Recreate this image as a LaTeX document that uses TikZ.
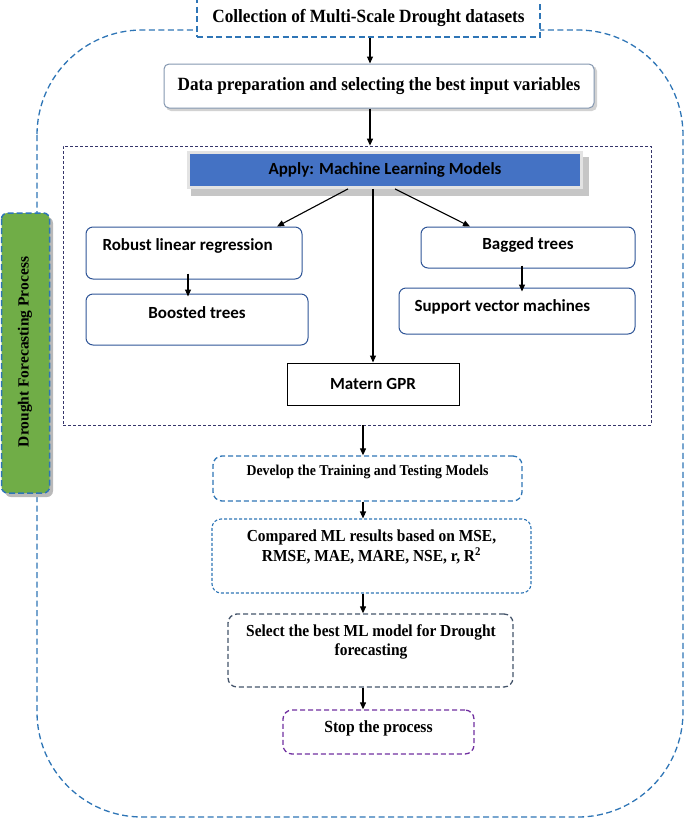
\documentclass[tikz,border=0pt]{standalone}
\usepackage{fontspec}
\setmainfont{Liberation Serif}
\newfontfamily\calib{Carlito}
\newfontfamily\tnr[FakeStretch=0.92]{Liberation Serif}
\usetikzlibrary{arrows.meta}
\definecolor{dblue}{HTML}{2E75B6}
\definecolor{navyd}{HTML}{35356A}
\definecolor{bblue}{HTML}{4472C4}
\definecolor{mblue}{HTML}{2F5597}
\definecolor{slate}{HTML}{44546A}
\definecolor{purp}{HTML}{7030A0}
\definecolor{grn}{HTML}{70AD47}
\definecolor{pgray}{HTML}{8497B0}
\tikzset{
  arr/.style={-{Triangle[length=7pt,width=6pt]}, line width=1.1pt, black},
  ttl/.style={font=\tnr\bfseries\fontsize{18.7}{21}\selectfont, text=black},
  cal/.style={font=\calib\bfseries\fontsize{17}{20}\selectfont, text=black},
  mlbox/.style={draw=mblue, line width=1pt, rounded corners=7pt, fill=white, inner sep=0pt},
  dbox/.style={line width=1.3pt, dash pattern=on 5pt off 3pt, rounded corners=9pt, inner sep=0pt},
  sm/.style 2 args={font=\tnr\bfseries\fontsize{#1}{#2}\selectfont, text=black, align=center},
}
\begin{document}
\begin{tikzpicture}[x=1pt,y=-1pt]
\useasboundingbox (0,0) rectangle (685,820);
% outer process frame
\draw[dblue, line width=1.3pt, dash pattern=on 6pt off 3.5pt, rounded corners=105pt] (37,30) rectangle (683,817);
% top box
\node[draw=dblue, fill=white, line width=1.3pt, dash pattern=on 6pt off 3.5pt, minimum width=343pt, minimum height=38pt, inner sep=0pt, ttl] (top) at (368.5,18) {Collection of Multi-Scale Drought datasets};
% data preparation
\fill[gray!35, rounded corners=5pt] (166,66) rectangle (597,111);
\node[draw=pgray, fill=white, line width=1pt, rounded corners=5pt, minimum width=430pt, minimum height=44pt, inner sep=0pt, ttl] (prep) at (379,86) {Data preparation and selecting the best input variables};
% ML dashed box
\node[draw=navyd, line width=0.8pt, dash pattern=on 3pt off 2pt, minimum width=588pt, minimum height=279pt, inner sep=0pt] (ml) at (357,285.5) {};
% Apply box
\fill[gray!45] (191,157) rectangle (589,196);
\node[fill=bblue, draw=gray!22, line width=2.8pt, minimum width=393pt, minimum height=35pt, inner sep=0pt, cal] (apply) at (385,170) {Apply: Machine Learning Models};
% model boxes
\node[mlbox, minimum width=216pt, minimum height=52pt] (robust) at (194,253) {};
\node[cal, anchor=west] (robustt) at (99,246) {Robust linear regression};
\node[mlbox, minimum width=222pt, minimum height=51pt] (boosted) at (197,319.5) {};
\node[cal] (boostedt) at (197,313) {Boosted trees};
\node[mlbox, minimum width=214pt, minimum height=41pt] (bagged) at (528,247.5) {};
\node[cal] (baggedt) at (528,245) {Bagged trees};
\node[mlbox, minimum width=236pt, minimum height=46pt] (svm) at (517,311) {};
\node[cal, anchor=west] (svmt) at (411,307) {Support vector machines};
\node[draw=black, line width=1pt, fill=white, minimum width=172pt, minimum height=42pt, inner sep=0pt, cal] (matern) at (373,384) {Matern GPR};
% side label
\fill[gray!55, rounded corners=6pt] (5,217) rectangle (53,497);
\node[fill=grn, draw=dblue, line width=1.5pt, dash pattern=on 6pt off 3pt, rounded corners=6pt, rotate=90, minimum width=280pt, minimum height=48pt, inner sep=0pt] (side) at (25.5,353) {};
\node[rotate=90, font=\bfseries\fontsize{15.5}{18}\selectfont, text=black] (sidet) at (25,352) {Drought Forecasting Process};
% lower boxes
\coordinate (spine) at (363,440);
\node[dbox, draw=dblue, minimum width=309pt, minimum height=45pt] (develop) at (367.5,478.5) {};
\node[sm={15}{18}] (developt) at (367.5,472) {Develop the Training and Testing Models};
\node[dbox, draw=dblue, line width=1.1pt, dash pattern=on 3pt off 2pt, minimum width=319pt, minimum height=74pt] (compared) at (371.5,556) {};
\node[sm={16.8}{19.5}] (comparedt) at (371.5,547) {Compared ML results based on MSE,\\RMSE, MAE, MARE, NSE, r, R\textsuperscript{2}};
\node[dbox, draw=slate, minimum width=285pt, minimum height=73pt] (select) at (370.5,650.5) {};
\node[sm={16.8}{19.5}] (selectt) at (371,642) {Select the best ML model for Drought\\forecasting};
\node[dbox, draw=purp, minimum width=191pt, minimum height=44pt] (stop) at (378.5,732) {};
\node[sm={17}{20}] (stopt) at (378.5,728) {Stop the process};
% connectors
\draw[arr] (top.south -| 370,0) -- (prep.north -| 370,0);
\draw[arr] (prep.south -| 370,0) -- (ml.north -| 370,0);
\draw[arr] ([xshift=-37]apply.south) -- ([xshift=83]robust.north);
\draw[arr] (apply.south -| matern.north) -- (matern.north);
\draw[arr] ([xshift=10]apply.south) -- ([xshift=-58]bagged.north);
\draw[arr] ([xshift=-6,yshift=6]robust.south) -- ([xshift=-9,yshift=-3]boosted.north);
\draw[arr] ([xshift=-6,yshift=3]bagged.south) -- ([xshift=5,yshift=-4]svm.north);
\draw[arr] (ml.south -| spine) -- (develop.north -| spine);
\draw[arr] (develop.south -| spine) -- (compared.north -| spine);
\draw[arr] (compared.south -| spine) -- (select.north -| spine);
\draw[arr] (select.south -| spine) -- (stop.north -| spine);
\end{tikzpicture}
\end{document}
